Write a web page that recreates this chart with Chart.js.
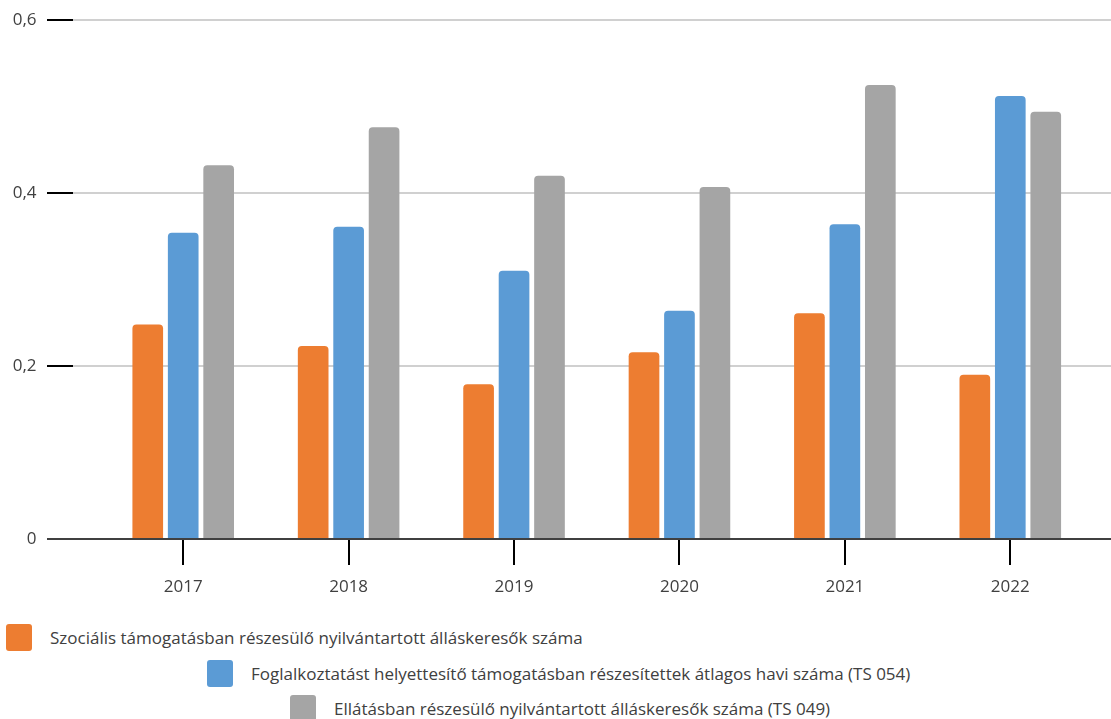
<!DOCTYPE html>
<html lang="hu">
<head>
  <meta charset="UTF-8">
  <title>Álláskeresők</title>
  <script src="https://cdn.jsdelivr.net/npm/chart.js"></script>
  <style>
    body { margin: 0; background: #fff; font-family: "Open Sans", sans-serif; }
    #wrap { position: relative; width: 1111px; height: 719px; }
    #chartBox { position: absolute; left: 0; top: 0; width: 1111px; height: 598px; }
    .leg { position: absolute; display: flex; align-items: center; font-size: 17px; color: #404040; white-space: nowrap; }
    .leg span.box { display: inline-block; width: 26px; height: 27px; border-radius: 3px; margin-right: 18px; }
  </style>
</head>
<body>
  <div id="wrap">
    <div id="chartBox"><canvas id="chart"></canvas></div>
    <div id="legend"></div>
  </div>

  <script>
    // Years on the x axis
    var years = ['2017', '2018', '2019', '2020', '2021', '2022'];

    // Series values
    var szocialis = [0.248, 0.223, 0.179, 0.216, 0.261, 0.190];
    var fht = [0.354, 0.361, 0.310, 0.264, 0.364, 0.512];
    var ellatas = [0.432, 0.476, 0.420, 0.407, 0.525, 0.494];

    var seriesNames = [
      'Szociális támogatásban részesülő nyilvántartott álláskeresők száma',
      'Foglalkoztatást helyettesítő támogatásban részesítettek átlagos havi száma (TS 054)',
      'Ellátásban részesülő nyilvántartott álláskeresők száma (TS 049)'
    ];
    var colors = ['#ED7D31', '#5B9BD5', '#A5A5A5'];

    // legend rows: left of the box and top of the row
    var legendPos = [[6, 624], [207, 660], [290, 695]];

    // horizontal grid lines + black tick stubs, drawn wider than the plot area
    var gridPlugin = {
      id: 'gridPlugin',
      beforeDatasetsDraw: function(chart) {
        var ctx = chart.ctx, y = chart.scales.y;
        ctx.save();
        y.ticks.forEach(function(t) {
          var py = Math.round(y.getPixelForValue(t.value));
          if (t.value !== 0) {
            ctx.strokeStyle = '#d0d0d0';
            ctx.lineWidth = 2;
            ctx.beginPath(); ctx.moveTo(73, py); ctx.lineTo(chart.width, py); ctx.stroke();
          }
          ctx.strokeStyle = '#000';
          ctx.lineWidth = 2;
          ctx.beginPath(); ctx.moveTo(47, py); ctx.lineTo(73, py); ctx.stroke();
        });
        ctx.restore();
      },
      afterDatasetsDraw: function(chart) {
        var ctx = chart.ctx, y = chart.scales.y;
        var py = Math.round(y.getPixelForValue(0));
        ctx.save();
        ctx.strokeStyle = '#404040';
        ctx.lineWidth = 2;
        ctx.beginPath(); ctx.moveTo(47, py); ctx.lineTo(chart.width, py); ctx.stroke();
        ctx.restore();
      }
    };

    var values = [szocialis, fht, ellatas];
    var datasets = values.map(function(v, i) {
      return {
        label: seriesNames[i],
        data: v,
        backgroundColor: colors[i],
        borderRadius: 4,
        borderSkipped: 'bottom',
        categoryPercentage: 0.643,
        barPercentage: 0.865
      };
    });

    new Chart(document.getElementById('chart'), {
      type: 'bar',
      data: { labels: years, datasets: datasets },
      plugins: [gridPlugin],
      options: {
        responsive: true,
        maintainAspectRatio: false,
        animation: false,
        layout: { padding: { top: 20, right: 18, bottom: 0, left: 0 } },
        plugins: { legend: { display: false }, tooltip: { enabled: false } },
        scales: {
          x: {
            offset: true,
            grid: { display: true, drawOnChartArea: false, drawTicks: true, tickLength: 26, tickColor: '#000', lineWidth: 2, offset: false },
            border: { display: false },
            afterFit: function(scale) { scale.height = 59; },
            ticks: { color: '#404040', font: { family: 'Open Sans', size: 17 }, padding: 12 }
          },
          y: {
            min: 0,
            max: 0.6,
            // invisible tick marks just push the labels out to the left
            grid: { display: true, drawOnChartArea: false, drawTicks: true, tickLength: 60, color: 'transparent', tickColor: 'transparent' },
            border: { display: false },
            afterFit: function(scale) { scale.width = 100.5; },
            ticks: {
              stepSize: 0.2,
              color: '#404040',
              font: { family: 'Open Sans', size: 17 },
              padding: 4,
              callback: function(v) { return v === 0 ? '0' : v.toFixed(1).replace('.', ','); }
            }
          }
        }
      }
    });

    // HTML legend built from the series names and colours
    var legend = document.getElementById('legend');
    seriesNames.forEach(function(name, i) {
      var row = document.createElement('div');
      row.className = 'leg';
      row.style.left = legendPos[i][0] + 'px';
      row.style.top = legendPos[i][1] + 'px';
      row.innerHTML = '<span class="box" style="background:' + colors[i] + '"></span>' + name;
      legend.appendChild(row);
    });
  </script>
</body>
</html>
